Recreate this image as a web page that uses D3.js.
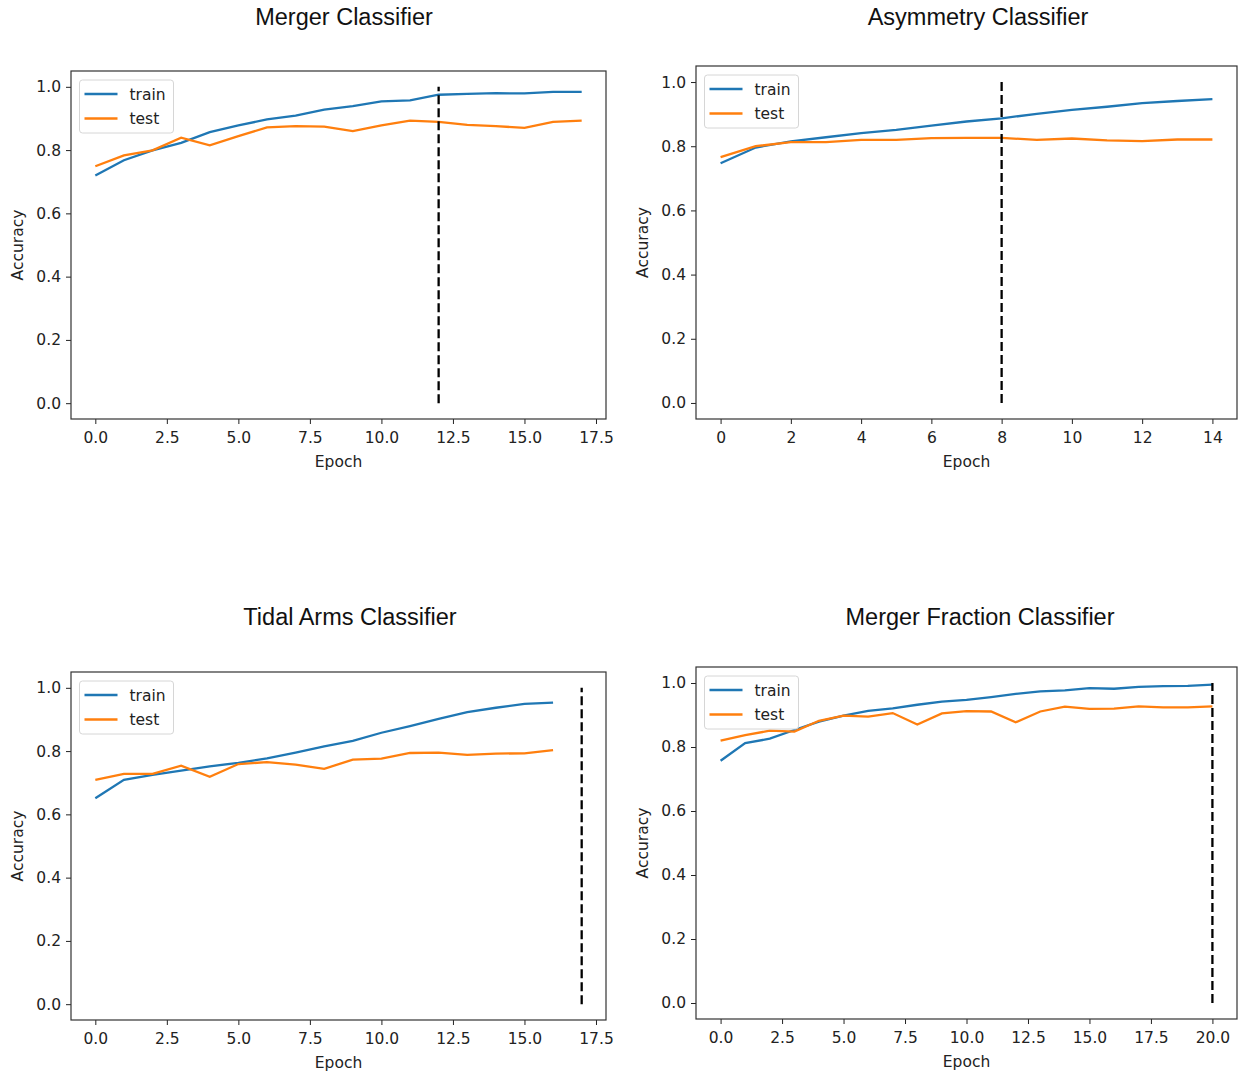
<!DOCTYPE html>
<html>
<head>
<meta charset="utf-8">
<script src="https://cdn.jsdelivr.net/npm/d3@7"></script>
<style>
  body { margin: 0; background: #fff; }
  .tick text { font-family: "DejaVu Sans", sans-serif; font-size: 15.5px; fill: #222; }
  .tick line { stroke: #222; }
  .domain { display: none; }
</style>
</head>
<body>
<div id="chart"></div>
<script>
// accuracy per epoch
var mergerTrain = [0.720, 0.768, 0.799, 0.823, 0.857, 0.878, 0.897, 0.909, 0.928, 0.939, 0.954, 0.957, 0.975, 0.978, 0.980, 0.979, 0.984, 0.984];
var mergerTest  = [0.749, 0.783, 0.799, 0.839, 0.815, 0.844, 0.872, 0.876, 0.874, 0.860, 0.878, 0.893, 0.889, 0.880, 0.876, 0.870, 0.889, 0.893];

var asymTrain = [0.747, 0.796, 0.815, 0.828, 0.841, 0.851, 0.864, 0.877, 0.887, 0.901, 0.913, 0.923, 0.934, 0.941, 0.947];
var asymTest  = [0.766, 0.800, 0.813, 0.813, 0.820, 0.820, 0.825, 0.826, 0.826, 0.820, 0.824, 0.818, 0.816, 0.821, 0.821];

var tidalTrain = [0.651, 0.709, 0.725, 0.738, 0.752, 0.763, 0.777, 0.795, 0.815, 0.832, 0.858, 0.879, 0.902, 0.923, 0.937, 0.949, 0.953];
var tidalTest  = [0.709, 0.728, 0.728, 0.754, 0.719, 0.759, 0.765, 0.757, 0.744, 0.773, 0.776, 0.794, 0.795, 0.788, 0.792, 0.793, 0.803];

var fracTrain = [0.757, 0.812, 0.826, 0.853, 0.879, 0.898, 0.913, 0.921, 0.932, 0.942, 0.947, 0.956, 0.966, 0.974, 0.977, 0.984, 0.982, 0.988, 0.990, 0.991, 0.995];
var fracTest  = [0.820, 0.837, 0.851, 0.848, 0.882, 0.898, 0.895, 0.906, 0.870, 0.905, 0.912, 0.911, 0.877, 0.911, 0.926, 0.919, 0.920, 0.927, 0.924, 0.924, 0.927];

// x position of the dashed stop line and the x extent of each panel
var stopEpochs = [12, 8, 17, 20];
var xMaxes = [17, 14, 17, 20];
var titles = ['Merger Classifier', 'Asymmetry Classifier', 'Tidal Arms Classifier', 'Merger Fraction Classifier'];
var xTickSets = [
  [0, 2.5, 5, 7.5, 10, 12.5, 15, 17.5],
  [0, 2, 4, 6, 8, 10, 12, 14],
  [0, 2.5, 5, 7.5, 10, 12.5, 15, 17.5],
  [0, 2.5, 5, 7.5, 10, 12.5, 15, 17.5, 20]
];
var xTickFormats = ['.1f', 'd', '.1f', '.1f'];
var yTicks = [0, 0.2, 0.4, 0.6, 0.8, 1.0];

var trainSets = [mergerTrain, asymTrain, tidalTrain, fracTrain];
var testSets = [mergerTest, asymTest, tidalTest, fracTest];

// plot boxes in page pixels
var boxes = [
  { left: 71, right: 606, top: 71, bottom: 419, titleX: 344, titleY: 25 },
  { left: 696, right: 1237, top: 66, bottom: 419, titleX: 978, titleY: 25 },
  { left: 71, right: 606, top: 672, bottom: 1020, titleX: 350, titleY: 625 },
  { left: 696, right: 1237, top: 667, bottom: 1019, titleX: 980, titleY: 625 }
];

var blue = '#1f77b4', orange = '#ff7f0e';

var svg = d3.select('#chart').append('svg')
  .attr('width', 1238)
  .attr('height', 1073);

boxes.forEach(function(b, k) {
  var xMax = xMaxes[k];
  var x = d3.scaleLinear()
    .domain([-0.05 * xMax, xMax * 1.05])
    .range([b.left, b.right]);
  var y = d3.scaleLinear()
    .domain([-0.05, 1.05])
    .range([b.bottom, b.top]);

  var g = svg.append('g');

  g.append('text')
    .attr('x', b.titleX)
    .attr('y', b.titleY)
    .attr('text-anchor', 'middle')
    .style('font-family', '"Liberation Sans", Arial, sans-serif')
    .style('font-size', '23.5px')
    .style('fill', '#111')
    .text(titles[k]);

  g.append('g')
    .attr('transform', 'translate(0,' + b.bottom + ')')
    .call(d3.axisBottom(x).tickValues(xTickSets[k]).tickFormat(d3.format(xTickFormats[k])).tickSize(5).tickPadding(8));

  g.append('g')
    .attr('transform', 'translate(' + b.left + ',0)')
    .call(d3.axisLeft(y).tickValues(yTicks).tickFormat(d3.format('.1f')).tickSize(5).tickPadding(5));

  g.append('text')
    .attr('x', (b.left + b.right) / 2)
    .attr('y', b.bottom + 48)
    .attr('text-anchor', 'middle')
    .style('font-family', '"DejaVu Sans", sans-serif')
    .style('font-size', '15.5px')
    .style('fill', '#222')
    .text('Epoch');

  g.append('text')
    .attr('transform', 'translate(' + (b.left - 48) + ',' + (b.top + b.bottom) / 2 + ') rotate(-90)')
    .attr('text-anchor', 'middle')
    .style('font-family', '"DejaVu Sans", sans-serif')
    .style('font-size', '15.5px')
    .style('fill', '#222')
    .text('Accuracy');

  var line = d3.line()
    .x(function(d, i) { return x(i); })
    .y(function(d) { return y(d); });

  g.append('path')
    .datum(trainSets[k])
    .attr('d', line)
    .attr('fill', 'none')
    .attr('stroke', blue)
    .attr('stroke-width', 2.3);

  g.append('path')
    .datum(testSets[k])
    .attr('d', line)
    .attr('fill', 'none')
    .attr('stroke', orange)
    .attr('stroke-width', 2.3);

  g.append('line')
    .attr('x1', x(stopEpochs[k]))
    .attr('x2', x(stopEpochs[k]))
    .attr('y1', y(0))
    .attr('y2', y(1))
    .attr('stroke', '#000')
    .attr('stroke-width', 2.3)
    .attr('stroke-dasharray', '9,4');

  // frame
  g.append('rect')
    .attr('x', b.left)
    .attr('y', b.top)
    .attr('width', b.right - b.left)
    .attr('height', b.bottom - b.top)
    .attr('fill', 'none')
    .attr('stroke', '#333')
    .attr('stroke-width', 1.2);

  // legend
  var lg = g.append('g').attr('transform', 'translate(' + (b.left + 8.5) + ',' + (b.top + 9) + ')');
  lg.append('rect')
    .attr('width', 94)
    .attr('height', 53)
    .attr('rx', 3)
    .attr('fill', '#fff')
    .attr('fill-opacity', 0.8)
    .attr('stroke', '#d6d6d6');
  [['train', blue], ['test', orange]].forEach(function(e, j) {
    var ly = 14 + j * 24.5;
    lg.append('line')
      .attr('x1', 5).attr('x2', 38)
      .attr('y1', ly).attr('y2', ly)
      .attr('stroke', e[1])
      .attr('stroke-width', 2.3);
    lg.append('text')
      .attr('x', 50)
      .attr('y', ly + 5.5)
      .style('font-family', '"DejaVu Sans", sans-serif')
      .style('font-size', '15.5px')
      .style('fill', '#222')
      .text(e[0]);
  });
});
</script>
</body>
</html>
